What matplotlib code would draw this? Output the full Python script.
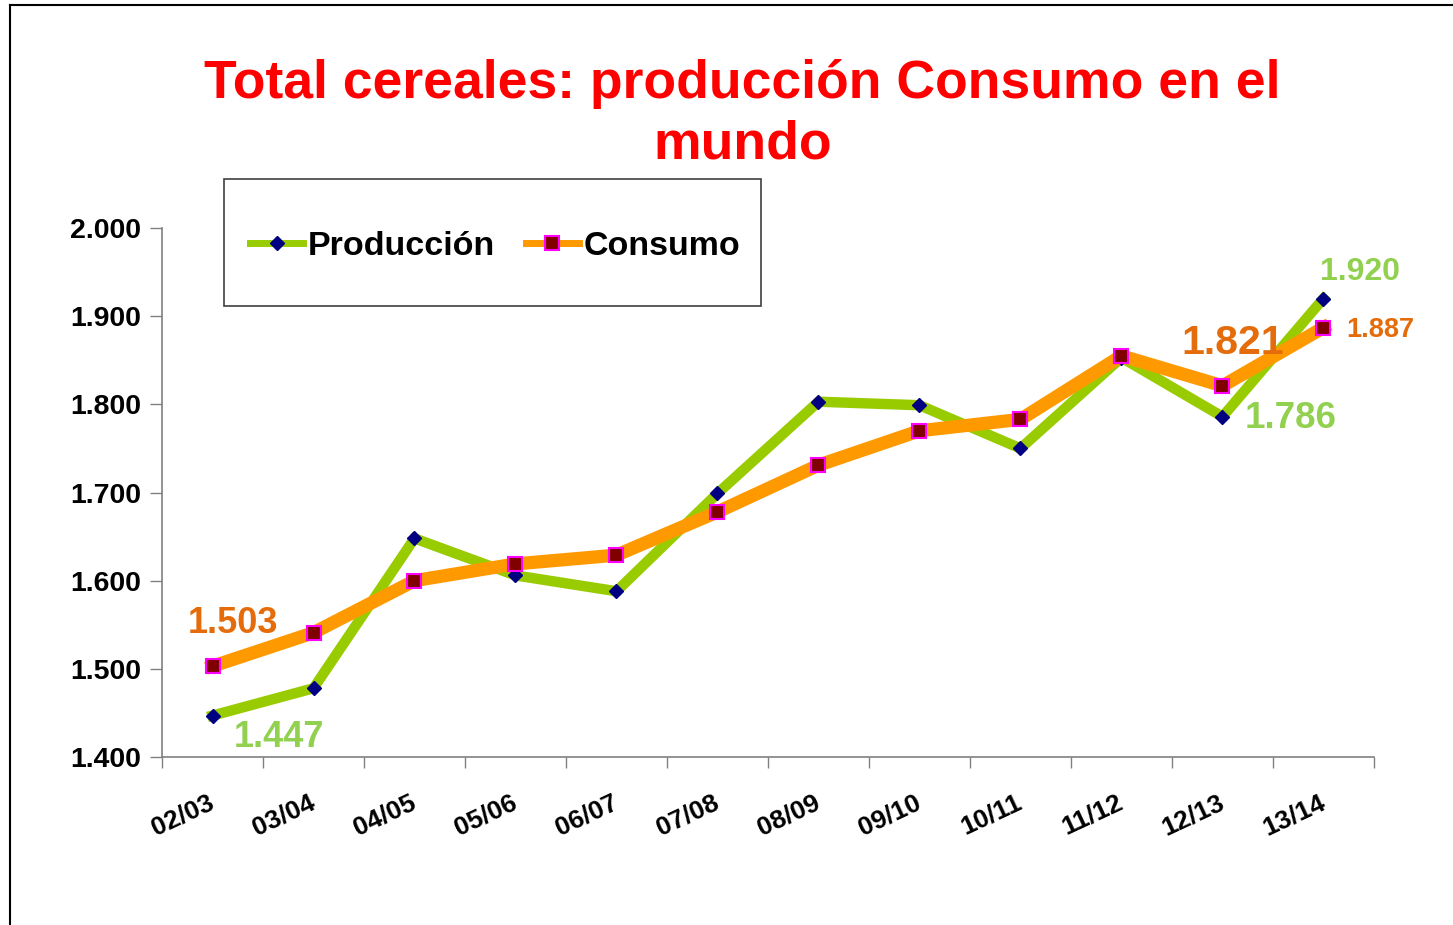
import numpy as np
import matplotlib
matplotlib.use("Agg")
import matplotlib.pyplot as plt
import matplotlib.transforms as mtransforms
from matplotlib.patches import Rectangle
from matplotlib.lines import Line2D

plt.rcParams['font.family'] = ['Liberation Sans', 'DejaVu Sans']
plt.rcParams['font.weight'] = 'bold'

campanas = ["02/03", "03/04", "04/05", "05/06", "06/07", "07/08",
            "08/09", "09/10", "10/11", "11/12", "12/13", "13/14"]
produccion = [1.447, 1.478, 1.648, 1.606, 1.588, 1.699,
              1.803, 1.799, 1.750, 1.853, 1.786, 1.920]
consumo = [1.503, 1.541, 1.600, 1.619, 1.629, 1.678,
           1.731, 1.770, 1.783, 1.855, 1.821, 1.887]

fig = plt.figure(figsize=(14.53, 9.25), dpi=100)
ax = fig.add_axes([0.1115, 0.1816, 0.8341, 0.5719])

x = np.arange(len(campanas))
ax.plot(x, produccion, color="#99CC00", lw=7.5, marker="D", ms=7,
        mfc="#000080", mec="#000080", solid_joinstyle="miter", zorder=3)
ax.plot(x, consumo, color="#FF9900", lw=9.5, marker="s", ms=10,
        mfc="#800000", mec="#FF00FF", mew=1.5, solid_joinstyle="miter", zorder=4)

ax.set_xlim(-0.5, len(campanas) - 0.5)
ax.set_ylim(1.4, 2.0)
yt = np.arange(1.4, 2.001, 0.1)
ax.set_yticks(yt)
ax.set_yticklabels(["%.3f" % v for v in yt], fontsize=20.5)
ax.tick_params(axis="y", length=9, width=1, color="#808080", pad=6)

ax.set_xticks(x)
ax.set_xticklabels(campanas, fontsize=19, rotation=25, ha="right",
                   rotation_mode="anchor")
ax.tick_params(axis="x", length=0, pad=24)
# desplazar un poco las etiquetas del eje x hacia la izquierda
desplaza = mtransforms.ScaledTranslation(-5 / 100, 0, fig.dpi_scale_trans)
for lab in ax.get_xticklabels():
    lab.set_transform(lab.get_transform() + desplaza)
ax.set_xticks(np.arange(-0.5, len(campanas), 1), minor=True)
ax.tick_params(axis="x", which="minor", length=8, width=1, color="#808080")

for s in ["top", "right"]:
    ax.spines[s].set_visible(False)
for s in ["left", "bottom"]:
    ax.spines[s].set_color("#808080")
    ax.spines[s].set_linewidth(1.2)

verde = "#92D050"
naranja = "#E46C0A"
etiquetas = [
    (0, consumo[0], (20, 43), naranja, 26),
    (0, produccion[0], (66, -22), verde, 26),
    (10, consumo[10], (10, 43), naranja, 29.5),
    (10, produccion[10], (68, -2), verde, 26.5),
    (11, produccion[11], (37, 27), verde, 23),
    (11, consumo[11], (57, -2), naranja, 19.5),
]
for i, v, off, col, fs in etiquetas:
    ax.annotate("%.3f" % v, (i, v), xytext=off, textcoords="offset pixels",
                ha="center", va="center", color=col, fontsize=fs,
                fontweight="bold", zorder=6)

fig.text(0.511, 0.909, "Total cereales: producción Consumo en el",
         ha="center", va="center", color="#FF0000", fontsize=38.5, fontweight="bold")
fig.text(0.511, 0.844, "mundo",
         ha="center", va="center", color="#FF0000", fontsize=38.5, fontweight="bold")

# recuadro de la leyenda
fig.patches.append(Rectangle((0.154, 0.669), 0.370, 0.1375, transform=fig.transFigure,
                             fill=False, edgecolor="#404040", lw=1.2))
handles = [
    Line2D([], [], color="#99CC00", lw=5, marker="D", ms=7, mfc="#000080", mec="#000080"),
    Line2D([], [], color="#FF9900", lw=5, marker="s", ms=10, mfc="#800000", mec="#FF00FF", mew=1.5),
]
fig.legend(handles, ["Producción", "Consumo"], loc="center",
           bbox_to_anchor=(0.341, 0.734), ncol=2, frameon=False,
           fontsize=24.5, handlelength=1.55, handletextpad=0.15, columnspacing=0.9)

# marco exterior
fig.add_artist(Line2D([0.007, 0.007], [0, 0.995], transform=fig.transFigure, color="black", lw=1.5))
fig.add_artist(Line2D([0.007, 1.0], [0.995, 0.995], transform=fig.transFigure, color="black", lw=1.5))

fig.savefig("out.png", dpi=100)
